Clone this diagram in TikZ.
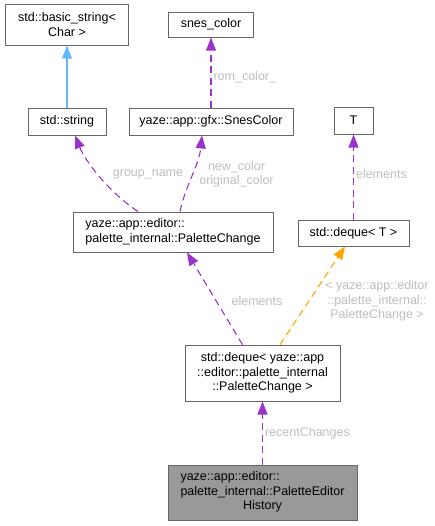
\documentclass[tikz,border=0pt]{standalone}
\usepackage{fontspec}
\setmainfont{Liberation Sans}
\usetikzlibrary{arrows.meta, positioning}

\definecolor{edgepurple}{HTML}{9A32CD}
\definecolor{edgeblue}{HTML}{63B8FF}
\definecolor{edgeorange}{HTML}{FFA500}
\definecolor{boxgray}{HTML}{666666}
\definecolor{histfill}{HTML}{999999}
\definecolor{lblgray}{HTML}{BEBEBE}

\begin{document}
\begin{tikzpicture}[
    x=1pt, y=-1pt,
    cls/.style={
        rectangle,
        draw=boxgray,
        fill=white,
        line width=0.9pt,
        inner sep=2pt,
        align=center,
        font=\fontsize{12.5}{14.5}\selectfont
    },
    uses/.style={
        -{Triangle[length=13pt,width=10pt]},
        line width=1.1pt,
        draw=edgepurple,
        dash pattern=on 7pt off 4.5pt
    },
    inherits/.style={
        -{Triangle[length=13pt,width=10pt]},
        line width=1.1pt,
        draw=edgeblue
    },
    templ/.style={uses, draw=edgeorange},
    lbl/.style={
        text=lblgray,
        inner sep=2pt,
        align=center,
        font=\fontsize{12.5}{14.5}\selectfont
    }
]
    \useasboundingbox (0,0) rectangle (435,526);

    \node [cls, fill=histfill, minimum width=189pt, minimum height=55pt] (hist) at (262.5,492.5)
        {\begin{tabular}{@{}l@{}}yaze::app::editor::\\palette\_internal::PaletteEditor\\\multicolumn{1}{@{}c@{}}{History}\end{tabular}};
    \node [cls, minimum width=155pt, minimum height=56pt, above=63pt of hist] (dequepc)
        {std::deque< yaze::app\\::editor::palette\_internal\\::PaletteChange >};
    \node [cls, align=left, minimum width=200pt, minimum height=40pt] (change) at (173,232)
        {yaze::app::editor::\\palette\_internal::PaletteChange};
    \node [cls, minimum width=111pt, minimum height=26pt] (dequet) at (353.5,233) {std::deque< T >};
    \node [cls, minimum width=39pt, minimum height=27pt, above=85pt of dequet] (tparam) {T};
    \node [cls, minimum width=164pt, minimum height=27pt] (snescolor) at (211,121.5) {yaze::app::gfx::SnesColor};
    \node [cls, minimum width=85pt, minimum height=25pt, above=70pt of snescolor] (romcolor) {snes\_color};
    \node [cls, minimum width=78pt, minimum height=27pt] (stdstring) at (67,121.5) {std::string};
    \node [cls, minimum width=123pt, minimum height=41pt, above=62pt of stdstring] (basicstr) {std::basic\_string<\\Char >};

    \draw [inherits] (stdstring) -- (basicstr);
    \draw [uses] (snescolor) -- node[lbl, right, pos=0.43]{rom\_color\_} (romcolor);
    \draw [uses] (dequet) -- node[lbl, right, pos=0.54]{elements} (tparam);
    \draw [uses] ([xshift=-35pt]change.north) .. controls +(-30,-20) and +(10,25) .. ([xshift=8pt]stdstring.south)
        node[lbl] at (148,174) {group\_name};
    \draw [uses] ([xshift=7pt]change.north) .. controls +(5,-25) and +(-3,30) .. ([xshift=-9pt]snescolor.south)
        node[lbl] at (236.5,174.5) {new\_color\\original\_color};
    \draw [uses] ([xshift=-20pt]dequepc.north) -- ([xshift=14pt]change.south)
        node[lbl] at (257,301) {elements};
    \draw [templ] ([xshift=17.5pt]dequepc.north) -- ([xshift=-8.5pt]dequet.south)
        node[lbl] at (377,301) {< yaze::app::editor\\::palette\_internal::\\PaletteChange >};
    \draw [uses] (hist) -- node[lbl, right, pos=0.49]{recentChanges} (dequepc);
\end{tikzpicture}
\end{document}
